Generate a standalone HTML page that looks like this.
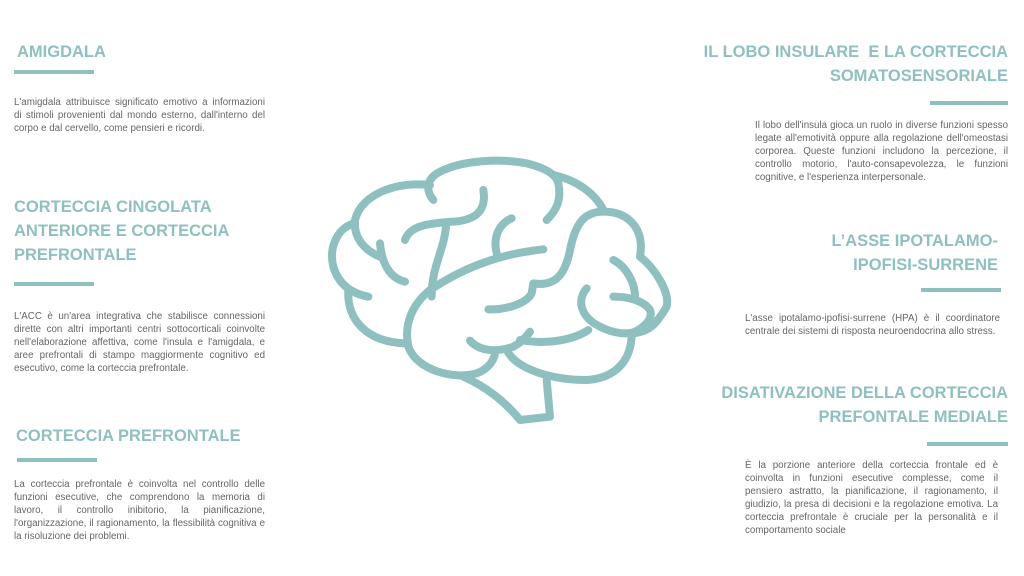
<!DOCTYPE html>
<html><head><meta charset="utf-8"><style>
body{margin:0;width:1024px;height:576px;background:#fff;position:relative;overflow:hidden;font-family:"Liberation Sans",sans-serif}
.t{position:absolute;color:#8fc0c0;font-weight:bold;font-size:16.5px;line-height:24px;white-space:nowrap}
.r{text-align:right}
.bar{position:absolute;height:4px;background:#8fc0c0}
.p{position:absolute;color:#666;font-size:9.75px;line-height:12.9px}
.p div{text-align:justify;text-align-last:justify;white-space:nowrap;overflow:visible}
.p div.l{text-align-last:left}
</style></head><body>
<div class="t" style="left:17px;top:40px">AMIGDALA</div>
<div class="bar" style="left:14px;top:70px;width:80px"></div>
<div class="p" style="left:14px;top:97px;width:251px"><div>L'amigdala attribuisce significato emotivo a informazioni</div><div>di stimoli provenienti dal mondo esterno, dall'interno del</div><div class="l">corpo e dal cervello, come pensieri e ricordi.</div></div>

<div class="t" style="left:14px;top:195px">CORTECCIA CINGOLATA<br>ANTERIORE E CORTECCIA<br>PREFRONTALE</div>
<div class="bar" style="left:14px;top:282px;width:80px"></div>
<div class="p" style="left:14px;top:311px;width:251px"><div>L'ACC è un'area integrativa che stabilisce connessioni</div><div>dirette con altri importanti centri sottocorticali coinvolte</div><div>nell'elaborazione affettiva, come l'insula e l'amigdala, e</div><div>aree prefrontali di stampo maggiormente cognitivo ed</div><div class="l">esecutivo, come la corteccia prefrontale.</div></div>

<div class="t" style="left:16px;top:424px">CORTECCIA PREFRONTALE</div>
<div class="bar" style="left:17px;top:458px;width:80px"></div>
<div class="p" style="left:14px;top:479px;width:251px"><div>La corteccia prefrontale è coinvolta nel controllo delle</div><div>funzioni esecutive, che comprendono la memoria di</div><div>lavoro, il controllo inibitorio, la pianificazione,</div><div>l'organizzazione, il ragionamento, la flessibilità cognitiva e</div><div class="l">la risoluzione dei problemi.</div></div>

<div class="t r" style="right:16px;top:40px">IL LOBO INSULARE&nbsp; E LA CORTECCIA<br>SOMATOSENSORIALE</div>
<div class="bar" style="left:930px;top:101px;width:78px"></div>
<div class="p" style="left:755px;top:120px;width:253px"><div>Il lobo dell'insula gioca un ruolo in diverse funzioni spesso</div><div>legate all'emotività oppure alla regolazione dell'omeostasi</div><div>corporea. Queste funzioni includono la percezione, il</div><div>controllo motorio, l'auto-consapevolezza, le funzioni</div><div class="l">cognitive, e l'esperienza interpersonale.</div></div>

<div class="t r" style="right:26px;top:229px">L’ASSE IPOTALAMO-<br>IPOFISI-SURRENE</div>
<div class="bar" style="left:921px;top:288px;width:80px"></div>
<div class="p" style="left:745px;top:313px;width:255px"><div>L'asse ipotalamo-ipofisi-surrene (HPA) è il coordinatore</div><div class="l">centrale dei sistemi di risposta neuroendocrina allo stress.</div></div>

<div class="t r" style="right:16px;top:381px">DISATIVAZIONE DELLA CORTECCIA<br>PREFONTALE MEDIALE</div>
<div class="bar" style="left:927px;top:442px;width:81px"></div>
<div class="p" style="left:745px;top:460px;width:253px"><div>È la porzione anteriore della corteccia frontale ed è</div><div>coinvolta in funzioni esecutive complesse, come il</div><div>pensiero astratto, la pianificazione, il ragionamento, il</div><div>giudizio, la presa di decisioni e la regolazione emotiva. La</div><div>corteccia prefrontale è cruciale per la personalità e il</div><div class="l">comportamento sociale</div></div>

<svg style="position:absolute;left:320px;top:150px" width="360" height="280" viewBox="0 0 1080 840">
<g fill="none" stroke="#8fc0c0" stroke-width="24" stroke-linecap="round" stroke-linejoin="round">
<path d="M340,150 C315,120 320,85 360,65 C430,30 540,25 620,40 C680,55 710,75 715,100 C725,150 710,180 680,210"/>
<path d="M330,105 C230,95 125,130 105,210 C100,260 130,300 180,320"/>
<path d="M105,220 C55,230 25,290 40,350 C55,400 90,430 145,440"/>
<path d="M85,420 C80,500 130,575 255,580"/>
<path d="M180,280 C185,340 210,385 255,395"/>
<path d="M490,120 C500,180 470,210 400,215 C330,220 270,225 255,270"/>
<path d="M378,230 C372,300 335,350 335,440"/>
<path d="M575,205 C530,225 520,270 530,310"/>
<path d="M670,298 C560,310 450,340 330,420 C280,460 250,520 265,590 C290,660 400,690 470,670 C510,655 525,625 525,605"/>
<path d="M450,572 C475,600 520,610 580,590 C600,580 615,565 630,545"/>
<path d="M505,478 C560,480 620,460 635,430 L640,400 C700,410 735,380 750,300 C765,225 790,185 850,185"/>
<path d="M700,75 C770,90 825,130 850,180"/>
<path d="M850,185 C920,185 975,230 960,320 C1010,360 1050,430 1040,470 C1010,520 990,545 940,550"/>
<path d="M800,415 C770,450 780,500 840,530 C880,550 920,555 945,545 C975,530 1000,505 990,480 C970,450 920,440 880,440"/>
<path d="M880,330 C920,350 945,400 945,440"/>
<path d="M805,540 C760,570 680,585 600,570"/>
<path d="M560,600 C590,660 700,690 800,690 C880,685 930,640 935,560"/>
<path d="M430,680 C500,710 560,760 600,810 L690,800 L680,690"/>
</g></svg>
</body></html>
